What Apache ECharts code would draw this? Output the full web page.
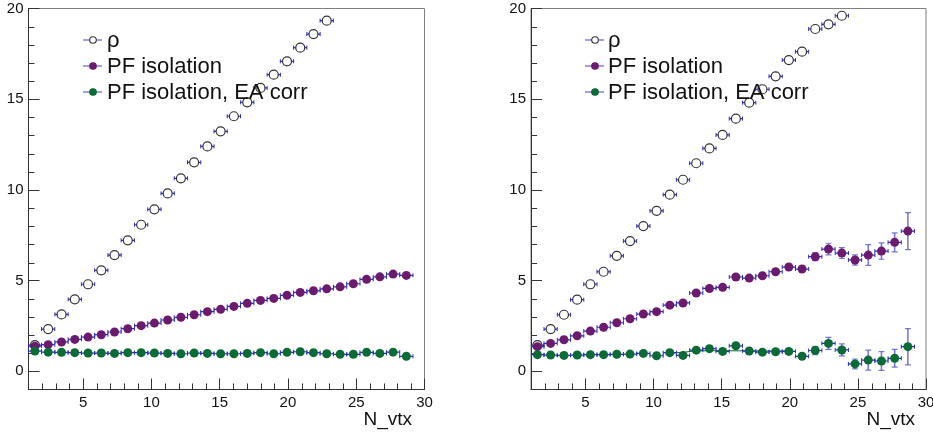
<!DOCTYPE html>
<html>
<head>
<meta charset="utf-8">
<script src="https://cdn.jsdelivr.net/npm/echarts@6/dist/echarts.min.js"></script>
<style>
  html, body { margin: 0; padding: 0; background: #fff; }
  #chart { width: 933px; height: 434px; }
</style>
</head>
<body>
<div id="chart"></div>
<script>
// Mean N_vtx of each bin (bin width ~0.972) and half bin width used for x error bars
const nvtx = [1.47, 2.44, 3.42, 4.39, 5.36, 6.33, 7.30, 8.27, 9.25, 10.22, 11.19, 12.16, 13.13, 14.10, 15.07,
              16.04, 17.02, 17.99, 18.96, 19.93, 20.90, 21.87, 22.84, 23.82, 24.79, 25.76, 26.73, 27.70, 28.67];
const binHalfWidth = 0.486;

// Left panel
const rhoLeft = [1.45, 2.33, 3.14, 3.97, 4.80, 5.57, 6.41, 7.22, 8.08, 8.93, 9.81, 10.64, 11.52, 12.40, 13.23,
                 14.06, 14.83, 15.62, 16.35, 17.09, 17.84, 18.59, 19.33];
const pfIsoLeft = [1.39, 1.47, 1.62, 1.76, 1.89, 2.02, 2.17, 2.35, 2.52, 2.66, 2.83, 2.98, 3.12, 3.29, 3.42,
                   3.58, 3.75, 3.91, 4.02, 4.19, 4.35, 4.44, 4.55, 4.66, 4.83, 5.07, 5.21, 5.36, 5.29];
const pfIsoEaLeft = [1.12, 1.06, 1.05, 1.03, 1.01, 1.01, 0.99, 1.03, 1.03, 1.01, 0.99, 0.97, 1.01, 0.99, 0.97,
                     0.97, 0.99, 1.03, 0.97, 1.05, 1.08, 1.03, 0.97, 0.94, 0.94, 1.05, 0.99, 1.06, 0.83];

// Right panel
const rhoRight = [1.45, 2.33, 3.12, 3.95, 4.80, 5.49, 6.37, 7.18, 8.01, 8.85, 9.74, 10.56, 11.47, 12.29, 13.03,
                  13.93, 14.81, 15.55, 16.26, 17.16, 17.62, 18.87, 19.13, 19.60];
const pfIsoRight = [1.36, 1.54, 1.74, 1.96, 2.22, 2.43, 2.68, 2.90, 3.16, 3.29, 3.65, 3.77, 4.32, 4.57, 4.63,
                    5.20, 5.14, 5.27, 5.49, 5.75, 5.64, 6.32, 6.74, 6.52, 6.14, 6.41, 6.63, 7.11, 7.73];
const pfIsoRightErr = [0.03, 0.03, 0.03, 0.03, 0.04, 0.04, 0.05, 0.05, 0.06, 0.06, 0.07, 0.07, 0.08, 0.09, 0.10,
                       0.10, 0.10, 0.11, 0.12, 0.13, 0.15, 0.22, 0.32, 0.30, 0.28, 0.57, 0.45, 0.52, 1.02];
const pfIsoEaRight = [0.92, 0.90, 0.88, 0.90, 0.92, 0.92, 0.94, 0.95, 0.99, 0.86, 1.03, 0.88, 1.17, 1.25, 1.10,
                      1.41, 1.12, 1.06, 1.08, 1.10, 0.83, 1.15, 1.54, 1.18, 0.41, 0.62, 0.57, 0.72, 1.36];
const pfIsoEaRightErr = [0.03, 0.03, 0.03, 0.03, 0.03, 0.03, 0.04, 0.04, 0.05, 0.05, 0.06, 0.06, 0.07, 0.08, 0.08,
                         0.09, 0.10, 0.10, 0.11, 0.12, 0.14, 0.23, 0.33, 0.33, 0.27, 0.55, 0.52, 0.49, 1.00];
// Fitted curve of the EA-corrected isolation (right panel)
const eaFitX = [11.0, 12.0, 13.0, 14.0, 20.0];
const eaFitY = [1.00, 1.04, 1.12, 1.14, 1.12];

// Axis ranges, labelled ticks and unit ticks
const xRange = [1, 30];
const yRange = [-1, 20];
const xTickLabels = [5, 10, 15, 20, 25, 30];
const yTickLabels = [0, 5, 10, 15, 20];
const xUnitTicks = [2, 3, 4, 6, 7, 8, 9, 11, 12, 13, 14, 16, 17, 18, 19, 21, 22, 23, 24, 26, 27, 28, 29];
const yUnitTicks = [1, 2, 3, 4, 6, 7, 8, 9, 11, 12, 13, 14, 16, 17, 18, 19];
const xTitle = 'N_vtx';
const legendNames = ['\u03c1', 'PF isolation', 'PF isolation, EA corr'];

const FONT = '"Liberation Sans", Arial, Helvetica, sans-serif';
const PURPLE = '#6c1a6e';
const GREEN = '#0b6b36';
const BAR_BLUE = '#2c2cbc';
const VBAR = 'rgba(80,80,196,0.75)';
const AXIS_COLOR = '#333';

const grids = [
  { left: 28.5, top: 8.5, width: 396, height: 381 },
  { left: 531, top: 8.5, width: 395, height: 381 }
];

function points(ys, errs) {
  return ys.map((y, i) => [nvtx[i], y, errs ? errs[i] : 0, binHalfWidth]);
}

function renderErrorBars(params, api) {
  const x = api.value(0), y = api.value(1), ey = api.value(2), ex = api.value(3);
  const c = api.coord([x, y]);
  const l = api.coord([x - ex, y]);
  const r = api.coord([x + ex, y]);
  const children = [
    { type: 'line', shape: { x1: l[0], y1: c[1], x2: r[0], y2: c[1] }, style: { stroke: BAR_BLUE, lineWidth: 1.2 } },
    { type: 'line', shape: { x1: l[0], y1: c[1] - 2, x2: l[0], y2: c[1] + 2 }, style: { stroke: BAR_BLUE, lineWidth: 1 } },
    { type: 'line', shape: { x1: r[0], y1: c[1] - 2, x2: r[0], y2: c[1] + 2 }, style: { stroke: BAR_BLUE, lineWidth: 1 } }
  ];
  if (ey > 0) {
    const t = api.coord([x, y + ey]);
    const b = api.coord([x, y - ey]);
    children.push(
      { type: 'line', shape: { x1: c[0], y1: t[1], x2: c[0], y2: b[1] }, style: { stroke: VBAR, lineWidth: 1.6 } },
      { type: 'line', shape: { x1: c[0] - 3, y1: t[1], x2: c[0] + 3, y2: t[1] }, style: { stroke: VBAR, lineWidth: 1.2 } },
      { type: 'line', shape: { x1: c[0] - 3, y1: b[1], x2: c[0] + 3, y2: b[1] }, style: { stroke: VBAR, lineWidth: 1.2 } }
    );
  }
  return { type: 'group', children };
}

// Short unit ticks along the bottom (x) and left (y) edges of a frame
function renderUnitTick(params, api) {
  const isX = api.value(2) === 0;
  const p = api.coord([api.value(0), api.value(1)]);
  const shape = isX
    ? { x1: Math.round(p[0]) + 0.5, y1: p[1], x2: Math.round(p[0]) + 0.5, y2: p[1] - 6 }
    : { x1: p[0], y1: Math.round(p[1]) + 0.5, x2: p[0] + 6, y2: Math.round(p[1]) + 0.5 };
  return { type: 'line', shape, style: { stroke: AXIS_COLOR, lineWidth: 1 } };
}

const xAxes = [], yAxes = [];
grids.forEach((g, gi) => {
  xAxes.push({
    gridIndex: gi, type: 'value', min: xRange[0], max: xRange[1], splitNumber: 6, position: 'bottom',
    axisLine: { show: true, onZero: false, lineStyle: { color: AXIS_COLOR, width: 1 } },
    axisTick: { show: true, inside: true, length: 11, lineStyle: { color: AXIS_COLOR, width: 1 } },
    axisLabel: {
      show: true, showMinLabel: false, margin: 6, fontSize: 15, color: '#111', fontFamily: FONT,
      formatter: v => (xTickLabels.indexOf(v) >= 0 ? String(v) : '')
    },
    splitLine: { show: false }
  });
  yAxes.push({
    gridIndex: gi, type: 'value', min: yRange[0], max: yRange[1], splitNumber: 5, position: 'left',
    axisLine: { show: true, onZero: false, lineStyle: { color: AXIS_COLOR, width: 1 } },
    axisTick: { show: true, inside: true, length: 11, lineStyle: { color: AXIS_COLOR, width: 1 } },
    axisLabel: {
      show: true, showMinLabel: false, margin: 5, fontSize: 15, color: '#111', fontFamily: FONT,
      formatter: v => (yTickLabels.indexOf(v) >= 0 ? String(v) : '')
    },
    splitLine: { show: false }
  });
});

function panelSeries(gi, rho, pf, pfErr, ea, eaErr) {
  const errSeries = (data, z) => ({
    type: 'custom', xAxisIndex: gi, yAxisIndex: gi, data, renderItem: renderErrorBars,
    encode: { x: 0, y: 1 }, clip: true, silent: true, z
  });
  const markSeries = (data, z, style, size) => ({
    type: 'scatter', xAxisIndex: gi, yAxisIndex: gi, data: data.map(d => [d[0], d[1]]),
    symbol: 'circle', symbolSize: size, itemStyle: style, silent: true, z
  });
  const rhoPts = points(rho, null);
  const pfPts = points(pf, pfErr);
  const eaPts = points(ea, eaErr);
  const tickData = xUnitTicks.map(v => [v, yRange[0], 0]).concat(yUnitTicks.map(v => [xRange[0], v, 1]));
  return [
    {
      type: 'custom', xAxisIndex: gi, yAxisIndex: gi, data: tickData, renderItem: renderUnitTick,
      encode: { x: 0, y: 1 }, clip: false, silent: true, z: 1
    },
    errSeries(rhoPts, 2),
    markSeries(rhoPts, 3, { color: '#fff', borderColor: '#333', borderWidth: 1.2, opacity: 1 }, 9),
    errSeries(pfPts, 4),
    markSeries(pfPts, 5, { color: PURPLE, opacity: 1 }, 9),
    errSeries(eaPts, 6),
    markSeries(eaPts, 7, { color: GREEN, opacity: 1 }, 9)
  ];
}

const series = [
  ...panelSeries(0, rhoLeft, pfIsoLeft, null, pfIsoEaLeft, null),
  ...panelSeries(1, rhoRight, pfIsoRight, pfIsoRightErr, pfIsoEaRight, pfIsoEaRightErr),
  {
    type: 'line', xAxisIndex: 1, yAxisIndex: 1, data: eaFitX.map((x, i) => [x, eaFitY[i]]),
    symbol: 'none', lineStyle: { color: GREEN, width: 1 }, silent: true, z: 5
  }
];

// Legend block and axis title for each panel
const graphic = [];
const legendLayout = [
  { lineX: 83, markX: 93, textX: 107, rows: [40, 66, 92] },
  { lineX: 585, markX: 595, textX: 608, rows: [40, 66, 92] }
];
const legendMarks = [
  { fill: '#fff', stroke: '#333' },
  { fill: PURPLE, stroke: PURPLE },
  { fill: GREEN, stroke: GREEN }
];
legendLayout.forEach(L => {
  legendNames.forEach((name, k) => {
    const y = L.rows[k];
    graphic.push({ type: 'line', shape: { x1: L.lineX, y1: y, x2: L.lineX + 19, y2: y },
                   style: { stroke: '#6464cc', lineWidth: 1.2 }, z: 20 });
    graphic.push({ type: 'circle', shape: { cx: L.markX, cy: y, r: 3.3 },
                   style: { fill: legendMarks[k].fill, stroke: legendMarks[k].stroke, lineWidth: 1.1 }, z: 21 });
    graphic.push({ type: 'text', x: L.textX, y: y + 1,
                   style: { text: name, font: '22px ' + FONT, fill: '#111', verticalAlign: 'middle', align: 'left' }, z: 21 });
  });
});
[412, 915].forEach(rx => {
  graphic.push({ type: 'text', x: rx, y: 420,
                 style: { text: xTitle, font: '19px ' + FONT, fill: '#111', align: 'right', verticalAlign: 'middle' }, z: 21 });
});

const chart = echarts.init(document.getElementById('chart'), null, { renderer: 'canvas' });
chart.setOption({
  backgroundColor: '#fff',
  animation: false,
  grid: grids.map(g => Object.assign({ show: true, borderColor: '#808080', borderWidth: 1,
                                       backgroundColor: 'transparent', containLabel: false,
                                       outerBoundsMode: 'none' }, g)),
  xAxis: xAxes,
  yAxis: yAxes,
  series,
  graphic
});
</script>
</body>
</html>
